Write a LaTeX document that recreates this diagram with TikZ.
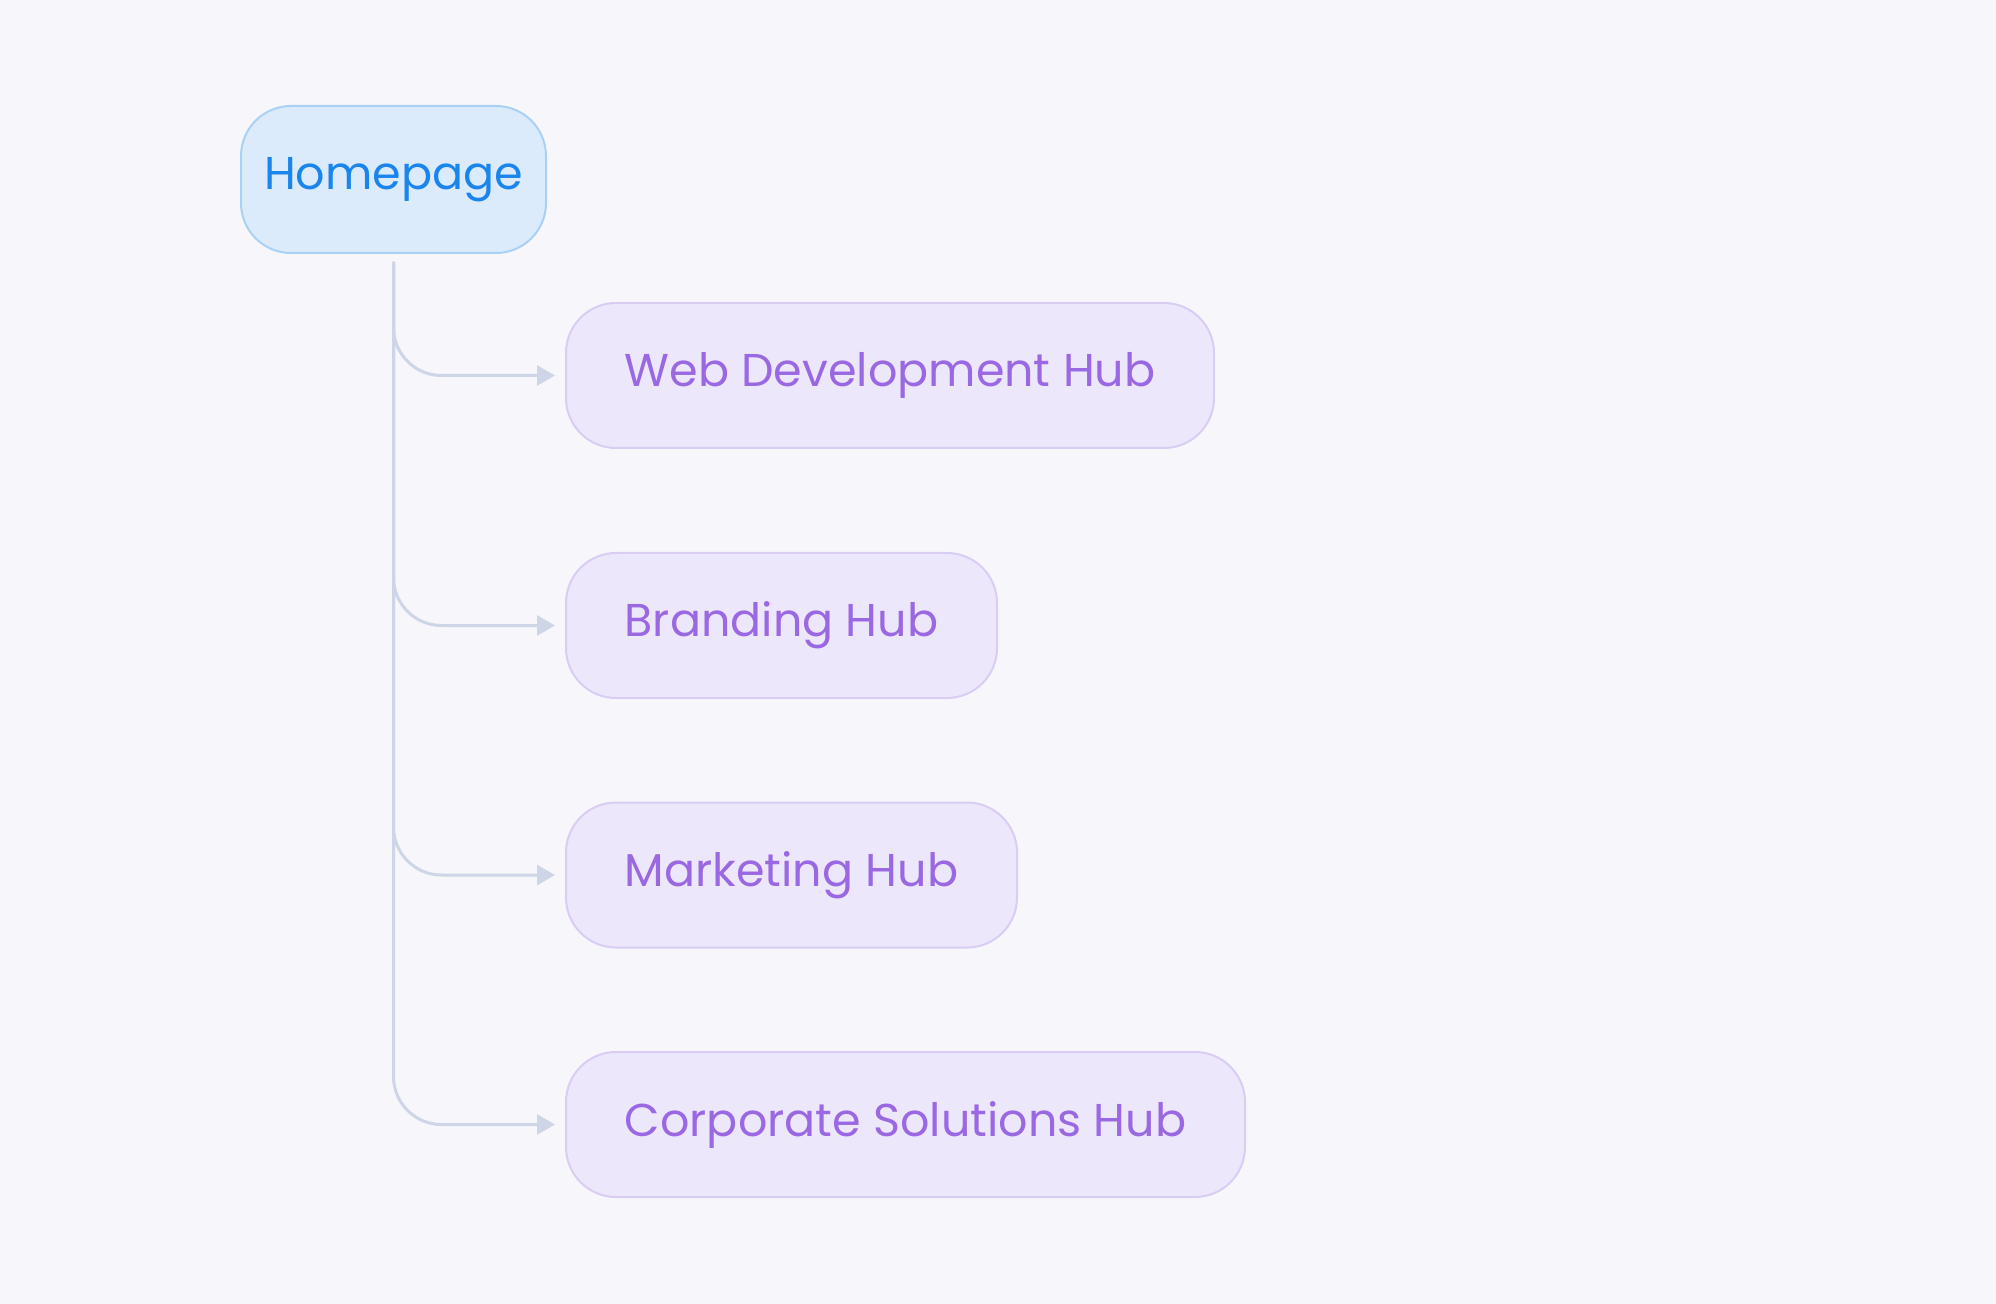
\documentclass[tikz,border=0pt]{standalone}
\usepackage{fontspec}
\setmainfont{Poppins}
\usetikzlibrary{positioning,arrows.meta}

\definecolor{bgcol}{HTML}{F7F7FB}
\definecolor{homefill}{HTML}{DCEBFB}
\definecolor{homeline}{HTML}{A9D1F6}
\definecolor{hometext}{HTML}{1A85EC}
\definecolor{hubfill}{HTML}{EDE7FB}
\definecolor{hubline}{HTML}{D9CDF4}
\definecolor{hubtext}{HTML}{9A68E2}
\definecolor{linkcol}{HTML}{CDD5E6}

\begin{document}
\begin{tikzpicture}[x=0.5pt,y=-0.5pt]
\tikzstyle{home}=[rectangle, rounded corners=25pt, minimum width=152.5pt, minimum height=73.5pt, line width=1pt, draw=homeline, fill=homefill, text=hometext, font=\fontsize{23}{26}\selectfont]
\tikzstyle{hub}=[rectangle, rounded corners=25pt, minimum height=72.5pt, line width=1pt, draw=hubline, fill=hubfill, text=hubtext, anchor=west, font=\fontsize{23}{26}\selectfont]
\tikzstyle{connect}=[-{Triangle[length=9pt,width=10pt]}, line width=1.5pt, draw=linkcol, rounded corners=24pt, shorten <=4pt, shorten >=5pt, to path={|- (\tikztotarget)}]
\fill[bgcol] (0,0) rectangle (1996,1304);
	\node[home] (home) at (393.5,179.5) {Homepage};
	\node[hub, minimum width=324pt] (web) at (565,375.5) {Web Development Hub};
	\node[hub, minimum width=215.5pt] (brand) at (565,625.5) {Branding Hub};
	\node[hub, minimum width=225.5pt] (market) at (565,875) {Marketing Hub};
	\node[hub, minimum width=339.5pt] (corp) at (565,1124.5) {Corporate Solutions Hub};

	\path
		(home.south) edge [connect] (web)
		(home.south) edge [connect] (brand)
		(home.south) edge [connect] (market)
		(home.south) edge [connect] (corp);

\end{tikzpicture}
\end{document}
